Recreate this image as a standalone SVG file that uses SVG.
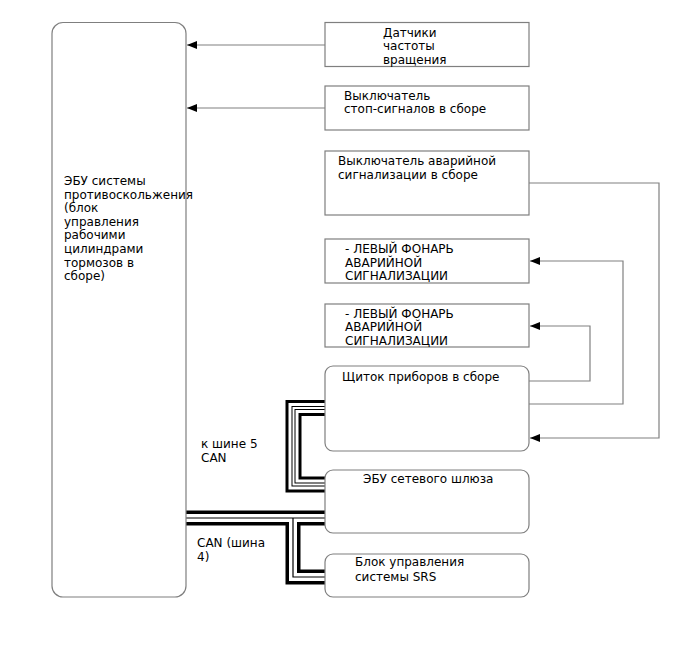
<svg xmlns="http://www.w3.org/2000/svg" width="688" height="658" viewBox="0 0 688 658">
<style>
.box{fill:#fff;stroke:#7f7f7f;stroke-width:1.2}
.t{font-family:"DejaVu Sans",Verdana,sans-serif;font-size:12px;fill:#000}
.wire{fill:none;stroke:#808080;stroke-width:1.2}
.bk{fill:none;stroke:#000;stroke-linejoin:miter}
.wh{fill:none;stroke:#fff;stroke-linejoin:miter}
</style>
<defs>
<marker id="ah" viewBox="0 0 10 8" refX="10" refY="4" markerWidth="10" markerHeight="8" markerUnits="userSpaceOnUse" orient="auto">
<path d="M0,0 L10,4 L0,8 z" fill="#000"/>
</marker>
</defs>
<rect width="688" height="658" fill="#fff"/>
<g id="connectors">
<path class="wire" d="M325,45 H187" marker-end="url(#ah)"/>
<path class="wire" d="M325,108 H187" marker-end="url(#ah)"/>
<path class="wire" d="M529,183 H659 V438 H530" marker-end="url(#ah)"/>
<path class="wire" d="M529,404 H623 V261 H530" marker-end="url(#ah)"/>
<path class="wire" d="M529,381 H590 V326 H530" marker-end="url(#ah)"/>
<!-- CAN bus 5 -->
<path class="bk" stroke-width="16" d="M325,408 H293.5 V484.5 H325"/>
<path class="wh" stroke-width="10" d="M325,408 H293.5 V484.5 H325"/>
<path class="bk" stroke-width="4" d="M325,408 H293.5 V484.5 H325"/>
<path class="wh" stroke-width="2" d="M325,408 H293.5 V484.5 H325"/>
<!-- CAN bus 4 -->
<path class="bk" stroke-width="15" d="M186,518 H325"/>
<path class="bk" stroke-width="15" d="M293,518 V577 H325"/>
<path class="wh" stroke-width="8" d="M186,518 H325"/>
<path class="wh" stroke-width="8" d="M293,518 V577 H325"/>
<path class="bk" stroke-width="1.2" d="M186,518 H325"/>
<path class="bk" stroke-width="1.2" d="M293,518 V577 H325"/>
</g>
<g id="ecu_abs">
<rect class="box" x="52" y="22.5" width="134" height="574.5" rx="11"/>
<text class="t" x="64" y="185">ЭБУ системы</text>
<text class="t" x="64" y="198.6">противоскольжения</text>
<text class="t" x="64" y="212.2">(блок</text>
<text class="t" x="64" y="225.8">управления</text>
<text class="t" x="64" y="239.4">рабочими</text>
<text class="t" x="64" y="253">цилиндрами</text>
<text class="t" x="64" y="266.6">тормозов в</text>
<text class="t" x="64" y="280.2">сборе)</text>
</g>
<g id="speed_sensors">
<rect class="box" x="325" y="22.5" width="204" height="44"/>
<text class="t" x="383" y="36.5">Датчики</text>
<text class="t" x="383" y="50">частоты</text>
<text class="t" x="383" y="63.5">вращения</text>
</g>
<g id="stop_switch">
<rect class="box" x="325" y="86" width="204" height="44"/>
<text class="t" x="344" y="99.5">Выключатель</text>
<text class="t" x="344" y="113">стоп-сигналов в сборе</text>
</g>
<g id="hazard_switch">
<rect class="box" x="325" y="151" width="204" height="64"/>
<text class="t" x="338" y="165">Выключатель аварийной</text>
<text class="t" x="338" y="179">сигнализации в сборе</text>
</g>
<g id="left_lamp_1">
<rect class="box" x="325" y="239" width="204" height="44"/>
<text class="t" x="345" y="253">- ЛЕВЫЙ ФОНАРЬ</text>
<text class="t" x="345" y="266.5">АВАРИЙНОЙ</text>
<text class="t" x="345" y="280">СИГНАЛИЗАЦИИ</text>
</g>
<g id="left_lamp_2">
<rect class="box" x="325" y="304" width="204" height="43"/>
<text class="t" x="345" y="317.5">- ЛЕВЫЙ ФОНАРЬ</text>
<text class="t" x="345" y="331">АВАРИЙНОЙ</text>
<text class="t" x="345" y="344.5">СИГНАЛИЗАЦИИ</text>
</g>
<g id="combination_meter">
<rect class="box" x="325" y="366" width="204" height="85" rx="8"/>
<text class="t" x="342" y="381">Щиток приборов в сборе</text>
</g>
<g id="gateway_ecu">
<rect class="box" x="325" y="470" width="204" height="63" rx="8"/>
<text class="t" x="363" y="482.5">ЭБУ сетевого шлюза</text>
</g>
<g id="srs_ecu">
<rect class="box" x="325" y="554" width="204" height="43" rx="8"/>
<text class="t" x="355" y="566">Блок управления</text>
<text class="t" x="355" y="580.5">системы SRS</text>
</g>
<g id="labels">
<text class="t" x="201" y="448">к шине 5</text>
<text class="t" x="201" y="462">CAN</text>
<text class="t" x="197" y="547">CAN (шина</text>
<text class="t" x="197" y="560.5">4)</text>
</g>
</svg>
